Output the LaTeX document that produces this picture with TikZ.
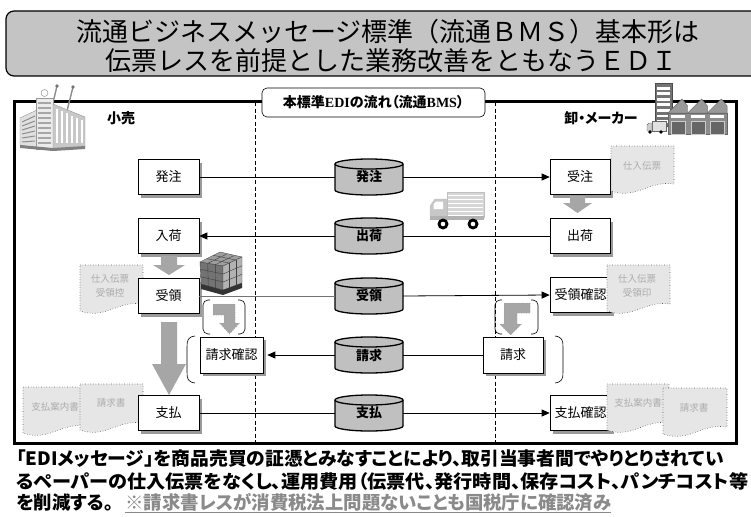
\documentclass[tikz,border=0pt]{standalone}
\usepackage{fontspec}
\setmainfont{Noto Sans CJK JP}
\newfontfamily\jpp[RawFeature=+palt]{Noto Sans CJK JP}
\newfontfamily\romanb{Liberation Serif}
\usetikzlibrary{arrows.meta,shadows,calc}

\definecolor{titlegray}{HTML}{C4C4C4}
\definecolor{cylgray}{HTML}{C0C0C0}
\definecolor{shadowgray}{HTML}{9A9A9A}
\definecolor{blockgray}{HTML}{A6A6A6}
\definecolor{slipfill}{HTML}{E6E6E6}
\definecolor{sliptext}{HTML}{ABABAB}
\definecolor{notegray}{HTML}{8A8A8A}

% paper slip with a wavy lower edge: x0, y0, width, height
\newcommand\slip[4]{%
  \filldraw[slipline] (#1,#2) -- ({#1+#3},#2) -- ({#1+#3},{#2+#4-10})
    .. controls ({#1+0.6*#3},{#2+#4-14}) and ({#1+0.4*#3},{#2+#4+6}) .. (#1,{#2+#4-3}) -- cycle;}

% message drum centred on x, y
\newcommand\drum[2]{%
  \filldraw[drumline] (#1-34,#2-13) -- (#1-34,#2+13)
    arc[start angle=180,end angle=0,x radius=34,y radius=5]
    -- (#1+34,#2-13)
    arc[start angle=0,end angle=-180,x radius=34,y radius=5] -- cycle;
  \draw[drumline,fill=none] (#1-34,#2-13)
    arc[start angle=180,end angle=0,x radius=34,y radius=5];}

\begin{document}
\begin{tikzpicture}[x=1pt,y=-1pt,
  box/.style={draw=black, line width=0.6pt, fill=white, minimum width=61pt,
    minimum height=35pt, inner sep=0pt, font=\fontsize{13}{13}\selectfont,
    drop shadow={shadow xshift=3pt, shadow yshift=-3pt, fill=shadowgray, opacity=1}},
  drumlabel/.style={minimum width=68pt, minimum height=36pt, inner sep=0pt,
    font=\bfseries\fontsize{13}{13}\selectfont},
  drumline/.style={draw=black, fill=cylgray, line width=1.3pt},
  slipline/.style={fill=slipfill, draw=black!65, dotted, line width=0.6pt},
  sliplabel/.style={text=sliptext, font=\fontsize{9.5}{14}\selectfont, align=center, inner sep=0pt},
  flow/.style={line width=0.8pt},
  tip/.style={-{Triangle[length=8pt,width=7pt]}},
  block/.style={fill=blockgray},
  bendarrow/.style={fill=blockgray, draw=black!45, dotted, line width=0.5pt},
  brace/.style={line width=0.6pt},
  side/.style={font=\bfseries\fontsize{14}{14}\selectfont, inner sep=0pt},
  noteline/.style={anchor=west, inner sep=0pt, font=\jpp\bfseries\fontsize{18.4}{19}\selectfont}]

\useasboundingbox (0,0) rectangle (751,516);

% ---- title banner
\draw[fill=titlegray, line width=1.2pt, rounded corners=8pt] (6,11) rectangle (770,76);
\node[font=\fontsize{26}{26}\selectfont, inner sep=0pt] (title1) at (388,32)
  {流通ビジネスメッセージ標準（流通ＢＭＳ）基本形は};
\node[font=\fontsize{26}{26}\selectfont, inner sep=0pt] (title2) at (391,61)
  {伝票レスを前提とした業務改善をともなうＥＤＩ};

% ---- frame and lanes
\draw[line width=3pt] (14,102) rectangle (736,443);
\draw[dashed, dash pattern=on 4pt off 2.5pt, line width=0.7pt] (255,102) -- (255,443);
\draw[dashed, dash pattern=on 4pt off 2.5pt, line width=0.7pt] (495,102) -- (495,443);

% ---- slips lying behind the retailer boxes
\slip{80}{265}{63}{49}
\node[sliplabel] (slipA) at (110,285.5) {仕入伝票\\受領控};
\slip{23}{387}{64}{49}
\node[sliplabel] (slipB) at (55,407) {支払案内書};
\slip{80}{384}{63}{49}
\node[sliplabel] (slipC) at (111,403) {請求書};

% ---- retailer side
\node[box] (order)   at (168.5,177) {発注};
\node[box] (arrive)  at (168.5,236) {入荷};
\node[box] (accept)  at (168.5,296) {受領};
\node[box, minimum width=63pt, minimum height=36pt] (billconf) at (231.5,355) {請求確認};
\node[box] (pay)     at (168.5,413) {支払};

% ---- supplier side
\node[box, minimum width=60pt] (recv)  at (580,177) {受注};
\node[box, minimum width=60pt] (shipR) at (580,236) {出荷};
\node[box] (acceptconf) at (580.5,295) {受領確認};
\node[box, minimum width=60pt, minimum height=36pt] (bill) at (513,355) {請求};
\node[box] (payconf) at (580.5,413) {支払確認};

% ---- slips lying over the supplier boxes
\slip{611}{146}{63}{48}
\node[sliplabel] (slipD) at (642,166) {仕入伝票};
\slip{607}{265}{63}{49}
\node[sliplabel] (slipE) at (637,285.5) {仕入伝票\\受領印};
\slip{607}{384}{62}{49}
\node[sliplabel] (slipF) at (638,403) {支払案内書};
\slip{663}{388}{64}{49}
\node[sliplabel] (slipG) at (694,408) {請求書};

% ---- message drums
\drum{369}{177}
\node[drumlabel] (d1) at (369,177) {発注};
\drum{369}{236}
\node[drumlabel] (d2) at (369,236) {出荷};
\drum{369}{296}
\node[drumlabel] (d3) at (369,296) {受領};
\drum{369}{355}
\node[drumlabel] (d4) at (369,355) {請求};
\drum{369}{413}
\node[drumlabel] (d5) at (369,413) {支払};

% ---- message flows
\draw[flow] (order.east) -- (d1.west);
\draw[flow, tip] (d1.east) -- (recv.west);
\draw[flow] (shipR.west) -- (d2.east);
\draw[flow, tip] (d2.west) -- (arrive.east);
\draw[flow, draw=black!55] (accept.east) -- (d3.west);
\draw[flow, tip] (d3.east) -- (acceptconf.west);
\draw[flow] (bill.west) -- (d4.east);
\draw[flow, tip] (d4.west) -- ([xshift=4pt]billconf.east);
\draw[flow] (pay.east) -- (d5.west);
\draw[flow, tip] (d5.east) -- (payconf.west);

% ---- internal steps (grey block arrows)
\fill[block] (570,196) -- (585,196) -- (585,203) -- (592,203) -- (577.5,213)
  -- (563,203) -- (570,203) -- cycle;
\fill[block] (161,256) -- (177,256) -- (177,265) -- (185,265) -- (169,275)
  -- (153,265) -- (161,265) -- cycle;
\fill[block] (161,322) -- (177,322) -- (177,364) -- (186,364) -- (169,395)
  -- (152,364) -- (161,364) -- cycle;

\filldraw[bendarrow] (213,304) -- (235,304) -- (235,323) -- (239.5,323) -- (229.5,334)
  -- (219.5,323) -- (224,323) -- (224,315) -- (213,315) -- cycle;
\filldraw[bendarrow] (530,303) -- (504,303) -- (504,324) -- (499.5,324) -- (510.5,335)
  -- (521.5,324) -- (517,324) -- (517,313) -- (530,313) -- cycle;

% ---- brackets
\draw[brace, rounded corners=5pt] (210,300) -- (203,300) -- (203,334) -- (210,334);
\draw[brace, rounded corners=5pt] (238,300) -- (245,300) -- (245,334) -- (238,334);
\draw[brace, rounded corners=5pt] (502,300) -- (495,300) -- (495,334) -- (502,334);
\draw[brace, rounded corners=5pt] (531,300) -- (538,300) -- (538,334) -- (531,334);
\draw[brace] (195,336) .. controls (188,337) and (187,340) .. (187,347) -- (187,372)
  .. controls (187,379) and (188,382) .. (195,383);
\draw[brace] (555,336) .. controls (562,337) and (563,340) .. (563,347) -- (563,372)
  .. controls (563,379) and (562,382) .. (555,383);

% ---- delivery truck
\filldraw[draw=black!25, fill=black!16] (447,192) rectangle (484,217);
\foreach \k in {0,...,5} \draw[white, line width=1pt] (448,{195+\k*4}) -- (483,{195+\k*4});
\filldraw[draw=black!25, fill=black!22] (430,217) -- (430,206) -- (435,199) -- (447,199)
  -- (447,217) -- cycle;
\fill[white] (433.5,204) -- (436,201.5) -- (443,201.5) -- (443,209) -- (433.5,209) -- cycle;
\fill[black!30] (430,216) rectangle (484,220);
\fill[black] (443,224) circle (5.5);
\fill[white] (443,224) circle (2.3);
\fill[black] (473,224) circle (5.5);
\fill[white] (473,224) circle (2.3);

% ---- goods on a pallet
\filldraw[draw=black!70, fill=black!38, line width=0.4pt] (200,262) -- (220,252) -- (242,257) -- (223,266) -- cycle;
\filldraw[draw=black!70, fill=black!55, line width=0.4pt] (200,262) -- (223,266) -- (223,290) -- (201,284) -- cycle;
\filldraw[draw=black!70, fill=black!30, line width=0.4pt] (223,266) -- (242,257) -- (242,283) -- (223,290) -- cycle;
\begin{scope}[black!75, line width=0.4pt]
  \draw (206.7,258.7) -- (229.3,263); \draw (213.3,255.3) -- (235.7,260);
  \draw (207.7,263.3) -- (226.3,254.3); \draw (215.3,264.7) -- (233.7,255.7);
  \draw (200.3,269.3) -- (223,274); \draw (200.7,276.7) -- (223,282);
  \draw (207.7,263.3) -- (208.3,286); \draw (215.3,264.7) -- (215.7,288);
  \draw (223,274) -- (242,265.7); \draw (223,282) -- (242,274.3);
  \draw (229.3,263) -- (229.3,287.7); \draw (235.7,260) -- (235.7,285.3);
\end{scope}
\fill[black!80] (201,284) -- (223,290) -- (242,283) -- (242,288) -- (223,295) -- (201,289) -- cycle;

% ---- retail store building
\draw[black!45, line width=1.4pt] (57,86) -- (51,111);
\draw[black!45, line width=1.4pt] (73,87) -- (67,111);
\fill[black!55] (57,86) circle (1.8);
\fill[black!55] (73,87) circle (1.8);
\filldraw[draw=black!40, fill=black!12] (20,118) -- (37,110) -- (37,148) -- (20,145) -- cycle;
\foreach \k in {0,...,5}
  \draw[black!45, line width=1pt] (22,{122+\k*4}) -- (35,{116+\k*5});
\filldraw[draw=black!40, fill=black!8] (36,98) rectangle (53,149);
\foreach \k in {0,...,8}
  \fill[black!35] (38,{102+\k*5}) rectangle (51,{103.6+\k*5});
\filldraw[draw=black!50, fill=white] (44.5,93) circle (3.5);
\filldraw[draw=black!40, fill=black!22] (53,104) -- (85,117) -- (85,147) -- (53,149) -- cycle;
\foreach \k in {0,...,5}
  \draw[white, line width=1.3pt] ({57+\k*5},{109+\k*2.2}) -- ({57+\k*5},143);
\fill[black!50] (20,145) -- (53,148) -- (85,146) -- (85,149) -- (53,151) -- (20,148) -- cycle;

% ---- wholesaler / maker plant
\filldraw[draw=black!70, fill=black!55] (655,83) rectangle (672,126);
\foreach \k in {0,...,6}
  \fill[white] (657,{87+\k*5.5}) rectangle (670,{89.6+\k*5.5});
\filldraw[draw=black!60, fill=black!45] (668,113) rectangle (727,134);
\foreach \i in {0,1,2} {
  \filldraw[draw=black!60, fill=black!40] ({668+19.7*\i},113) -- ({682+19.7*\i},99)
    -- ({687.7+19.7*\i},106) -- ({687.7+19.7*\i},113) -- cycle;
  \fill[white] ({671+19.7*\i},115) rectangle ({685+19.7*\i},118);
  \filldraw[draw=black!20, fill=black!60] ({671+19.7*\i},121) rectangle ({685+19.7*\i},134);
}
\filldraw[draw=black!60, fill=black!12] (652,121) rectangle (666,131);
\filldraw[draw=black!60, fill=black!20] (647,131) -- (647,125) -- (649,123) -- (652,123) -- (652,131) -- cycle;
\fill[black] (650,132) circle (1.8);
\fill[black] (661,132) circle (1.8);

% ---- party labels
\node[side] (retail) at (121,118) {小売};
\node[side, font=\jpp\bfseries\fontsize{14}{14}\selectfont] (maker) at (601,118) {卸・メーカー};

% ---- lane heading
\node[draw, rounded corners=5pt, fill=white, line width=0.6pt, minimum width=223pt,
  minimum height=29pt, inner sep=0pt, font=\jpp\bfseries\fontsize{14}{14}\selectfont]
  (heading) at (373.5,102.5) {本標準{\romanb\bfseries EDI}の流れ（流通{\romanb\bfseries BMS}）};

% ---- note below the frame
\node[noteline] (note1) at (16,459) {\scalebox{1.02}[1]{「EDIメッセージ」を商品売買の証憑とみなすことにより、取引当事者間でやりとりされてい}};
\node[noteline] (note2) at (16,481) {\scalebox{1.04}[1]{るペーパーの仕入伝票をなくし、運用費用（伝票代、発行時間、保存コスト、パンチコスト等}};
\node[noteline] (note3) at (16,503)
  {を削減する。\hspace{12pt}{\color{notegray}\underline{※請求書レスが消費税法上問題ないことも国税庁に確認済み}}};
\end{tikzpicture}
\end{document}
